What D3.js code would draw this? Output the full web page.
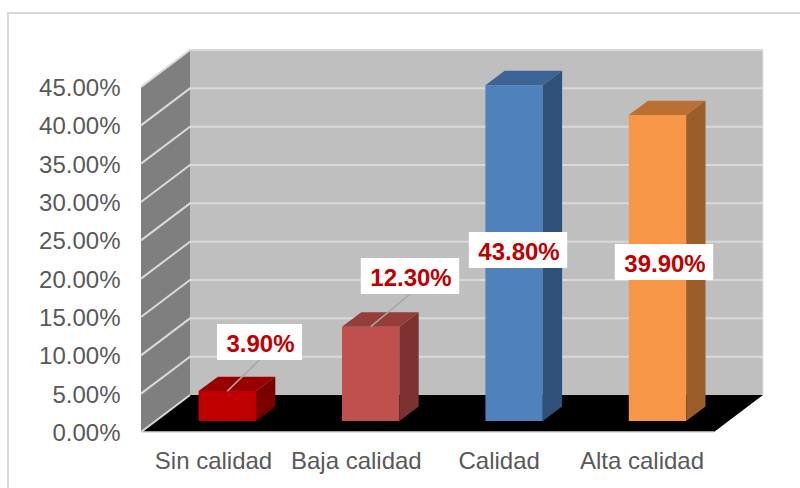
<!DOCTYPE html>
<html><head><meta charset="utf-8">
<script src="https://cdn.jsdelivr.net/npm/d3@7"></script>
<style>html,body{margin:0;padding:0;background:#fff;overflow:hidden}svg{display:block}text{font-family:"Liberation Sans",Arial,sans-serif}</style>
</head><body><div id="chart"></div>
<script>
const categories = ["Sin calidad","Baja calidad","Calidad","Alta calidad"];
const values = [3.9,12.3,43.8,39.9];
const tickValues = [0,5,10,15,20,25,30,35,40,45];
const valueLabels = ["3.90%","12.30%","43.80%","39.90%"];
const frontColors = ["#c00000","#c0504d","#4f81bd","#f79646"];
const topColors = ["#9a0000","#953d3b","#3d6496","#bb7033"];
const sideColors = ["#7a0000","#7c3230","#2f5078","#9b5e2a"];
const labelCenters = [[259.5,342],[410,276],[518,250],[664,262]];
const hasLeader = [true,true,false,false];

const W=800,H=488;
const svg=d3.select("#chart").append("svg").attr("width",W).attr("height",H);
svg.append("rect").attr("x",8).attr("y",13).attr("width",820).attr("height",500)
  .attr("fill","#fff").attr("stroke","#d9d9d9").attr("stroke-width",2);

const y=d3.scaleLinear().domain([0,45]).range([432,87]);
const xBars=d3.scalePoint().domain(categories).range([227.3,657.5]);
const xLabels=d3.scalePoint().domain(categories).range([213.5,642]);
const left=141,right=714,dx=49,dy=-37;
const barW=57.4,bx=19.3,by=-14.4,lift=-11;

const poly=(pts,fill,stroke)=>svg.append("polygon").attr("points",pts.map(p=>p.join(",")).join(" ")).attr("fill",fill).attr("stroke",stroke||"none");
// walls
poly([[left+dx,y(45)+dy],[right+dx,y(45)+dy],[right+dx,y(0)+dy],[left+dx,y(0)+dy]],"#bfbfbf");
poly([[left,y(45)],[left+dx,y(45)+dy],[left+dx,y(0)+dy],[left,y(0)]],"#7f7f7f");
poly([[left,y(0)],[left+dx,y(0)+dy],[right+dx,y(0)+dy],[right,y(0)]],"#000");
// gridlines
svg.append("g").selectAll("path").data(tickValues).join("path")
  .attr("d",t=>`M${left},${y(t)}L${left+dx},${y(t)+dy}`+(t>0?`L${right+dx},${y(t)+dy}`:""))
  .attr("fill","none").attr("stroke","#d9d9d9").attr("stroke-width",2);
svg.append("line").attr("x1",right+dx).attr("x2",right+dx).attr("y1",y(45)+dy).attr("y2",y(0)+dy).attr("stroke","#e4e4e4").attr("stroke-width",1);
svg.append("line").attr("x1",left).attr("x2",right).attr("y1",y(0)).attr("y2",y(0)).attr("stroke","#d9d9d9").attr("stroke-width",1.5);
// axis labels
const axisY=d3.axisLeft(y).tickValues(tickValues).tickSize(0).tickFormat(d=>d.toFixed(2)+"%");
const gy=svg.append("g").attr("transform","translate(126.5,0)").call(axisY);
gy.select(".domain").remove();
gy.selectAll("text").attr("font-size",24).attr("fill","#595959").attr("dx",-3).attr("dy","0.36em");
const gx=svg.append("g").attr("transform","translate(-0.5,432)").call(d3.axisBottom(xLabels).tickSize(0));
gx.select(".domain").remove();
gx.selectAll("text").attr("font-size",24).attr("fill","#595959").attr("dy",0).attr("y",37);
// bars
categories.forEach((c,i)=>{
  const xl=xBars(c)-barW/2, xr=xl+barW, yb=y(0)+lift, yt=y(values[i])+lift;
  poly([[xl,yb],[xr,yb],[xr,yt],[xl,yt]],frontColors[i]);
  poly([[xl,yt],[xr,yt],[xr+bx,yt+by],[xl+bx,yt+by]],topColors[i]);
  poly([[xr,yb],[xr+bx,yb+by],[xr+bx,yt+by],[xr,yt]],sideColors[i]);
});
// leaders and labels
categories.forEach((c,i)=>{
  const [cx,cy]=labelCenters[i];
  if(hasLeader[i]) svg.append("line")
    .attr("x1",xBars(c)).attr("y1",y(values[i])+lift).attr("x2",cx).attr("y2",cy+18)
    .attr("stroke","#a6a6a6").attr("stroke-width",1.5);
  const box=svg.append("rect").attr("fill","#fff");
  const t=svg.append("text").attr("x",cx+1).attr("y",cy).attr("text-anchor","middle").attr("dy","0.4em")
    .attr("font-size",24).attr("font-weight","bold").attr("fill","#c00000").text(valueLabels[i]);
  const b=t.node().getBBox();
  box.attr("x",cx-b.width/2-8.5).attr("y",cy-18).attr("width",b.width+17).attr("height",36);
});
</script></body></html>
